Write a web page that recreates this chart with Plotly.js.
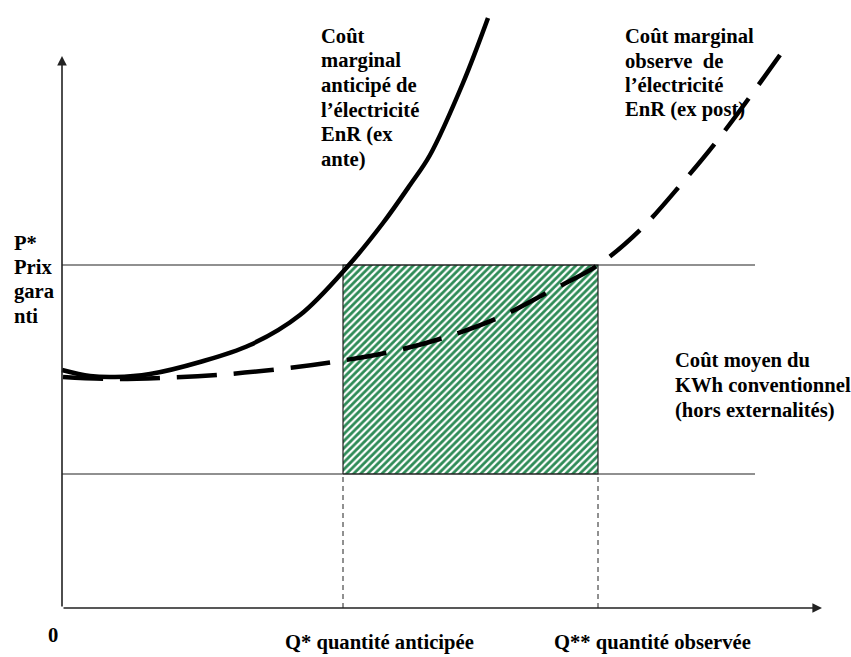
<!DOCTYPE html>
<html><head><meta charset="utf-8">
<script src="https://cdn.plot.ly/plotly-3.0.1.min.js"></script>
<style>html,body{margin:0;padding:0;background:#fff}#chart{width:851px;height:657px}</style>
</head><body><div id="chart"></div>
<script>
// Schematic values (quantity, price)
const qAnte   = [0, 28, 53, 88, 138, 188, 238, 286, 321, 348, 368, 401, 426];
const cAnte   = [238, 232, 231, 234, 246, 263, 293, 342, 385, 423, 453, 525, 590];
const qPost   = [1, 48, 98, 155, 218, 271, 328, 381, 438, 488, 536, 578, 621, 658, 718];
const cPost   = [231, 229, 230, 233, 239, 246, 256, 270, 291, 317, 343, 378, 426, 471, 553];
const pStar = 343;       // P* Prix garanti
const cMoyen = 134;      // Coût moyen du KWh conventionnel
const qStar = 281;       // Q* quantité anticipée
const qStarStar = 536;   // Q** quantité observée
const xEnd = 693, xAxisEnd = 760, yAxisEnd = 552;

const labelAnte = ['Coût','marginal','anticipé de','l’électricité','EnR (ex','ante)'];
const labelPost = ['Coût marginal','observe  de','l’électricité','EnR (ex post)'];
const labelMoyen = ['Coût moyen du','KWh conventionnel','(hors externalités)'];
const labelPrix = ['P*','Prix','gara','nti'];
const labelQStar = 'Q* quantité anticipée';
const labelQStarStar = 'Q** quantité observée';

const FONT = "Liberation Serif";
const FS = 20.6;
const traces = [
  {x:[qStar,qStarStar,qStarStar,qStar,qStar], y:[cMoyen,cMoyen,pStar,pStar,cMoyen], mode:'lines',
   fill:'toself', fillcolor:'rgba(0,0,0,0)',
   fillpattern:{shape:'/', fgcolor:'#2e8b57', bgcolor:'#ffffff', size:5, solidity:0.55},
   line:{color:'#222', width:1.2}},
  {x:[0,xEnd], y:[pStar,pStar], mode:'lines', line:{color:'#222', width:1.2}},
  {x:[0,xEnd], y:[cMoyen,cMoyen], mode:'lines', line:{color:'#222', width:1.2}},
  {x:[qStar,qStar], y:[0,cMoyen], mode:'lines', line:{color:'#222', width:1, dash:'5px,4px'}},
  {x:[qStarStar,qStarStar], y:[0,cMoyen], mode:'lines', line:{color:'#222', width:1, dash:'5px,4px'}},
  {x:qPost, y:cPost, mode:'lines', line:{color:'#000', width:4.5, dash:'40px,17px', shape:'spline', smoothing:1}},
  {x:qAnte, y:cAnte, mode:'lines', line:{color:'#000', width:4.5, shape:'spline', smoothing:1}}
];

function lines(arr, x, y0, step){
  return arr.map((t,i)=>({x:x, y:y0 - i*step, text:'<b>'+t+'</b>', showarrow:false, xanchor:'left', yanchor:'middle',
    font:{family:FONT, size:FS, color:'#000'}}));
}
let ann = [];
ann = ann.concat(lines(labelAnte, 257, 572, 24.6));
ann = ann.concat(lines(labelPost, 561, 572, 24.6));
ann = ann.concat(lines(labelMoyen, 611, 248, 25));
ann = ann.concat(lines(labelPrix, -50, 365, 24.3));
ann.push({x:-9, y:-27, text:'<b>0</b>', showarrow:false, xanchor:'center', yanchor:'middle', font:{family:FONT,size:FS,color:'#000'}});
ann.push({x:qStar-60, y:-34, text:'<b>'+labelQStar+'</b>', showarrow:false, xanchor:'left', yanchor:'middle', font:{family:FONT,size:FS,color:'#000'}});
ann.push({x:qStarStar-46, y:-34, text:'<b>'+labelQStarStar+'</b>', showarrow:false, xanchor:'left', yanchor:'middle', font:{family:FONT,size:FS,color:'#000'}});
ann.push({x:xAxisEnd, y:0, ax:0, ay:0, axref:'x', ayref:'y', xref:'x', yref:'y', text:'', showarrow:true, arrowhead:2, arrowsize:1.2, arrowwidth:1.6, arrowcolor:'#222'});
ann.push({x:0, y:yAxisEnd, ax:0, ay:0, axref:'x', ayref:'y', xref:'x', yref:'y', text:'', showarrow:true, arrowhead:2, arrowsize:1.2, arrowwidth:1.6, arrowcolor:'#222'});

const layout = {
  width:851, height:657, margin:{l:0,r:0,t:0,b:0},
  paper_bgcolor:'#fff', plot_bgcolor:'#fff', showlegend:false,
  font:{family:FONT},
  xaxis:{range:[-62,789], visible:false, fixedrange:true},
  yaxis:{range:[-49,608], visible:false, fixedrange:true},
  annotations:ann
};
Plotly.newPlot('chart', traces, layout, {staticPlot:true});
</script></body></html>
